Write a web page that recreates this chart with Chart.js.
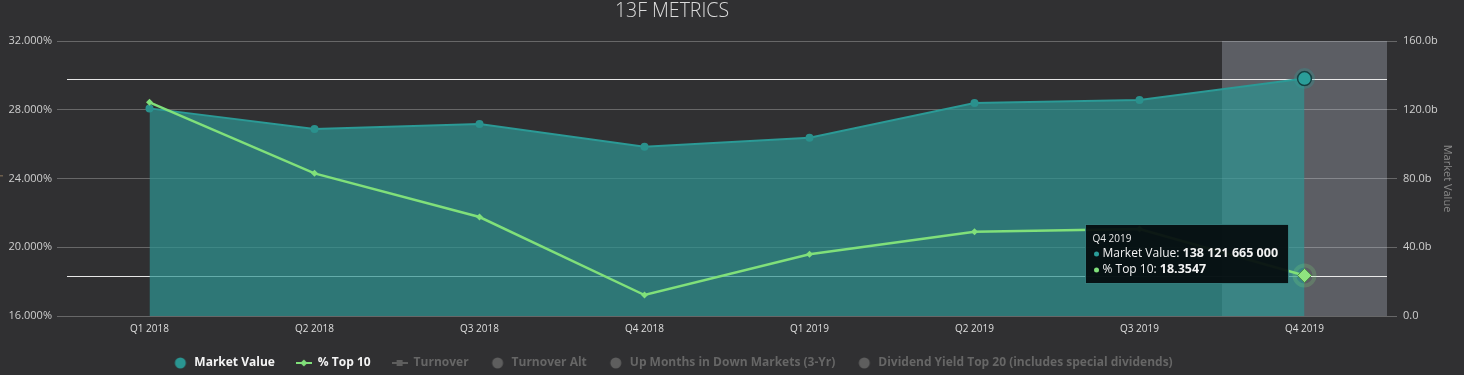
<!DOCTYPE html>
<html><head><meta charset="utf-8">
<script src="https://cdn.jsdelivr.net/npm/chart.js@4/dist/chart.umd.min.js"></script>
<style>
html,body{margin:0;padding:0;background:#303032;overflow:hidden;}
#wrap{width:1464px;height:375px;position:relative;}
canvas{display:block;}
</style></head><body>
<div id="wrap"><canvas id="c" width="1464" height="375"></canvas></div>
<script>
// ---- data ----
const categories = ['Q1 2018','Q2 2018','Q3 2018','Q4 2018','Q1 2019','Q2 2019','Q3 2019','Q4 2019'];
const marketValue = [120800000000, 108800000000, 111700000000, 98500000000, 103700000000, 123900000000, 125700000000, 138121665000];
const pctTop10 = [28.43, 24.30, 21.76, 17.22, 19.59, 20.90, 21.06, 18.3547];
const leftTicks = [16, 20, 24, 28, 32];
const rightTicks = [0, 40000000000, 80000000000, 120000000000, 160000000000];
const hiddenSeries = ['Turnover', 'Turnover Alt', 'Up Months in Down Markets (3-Yr)', 'Dividend Yield Top 20 (includes special dividends)'];
const chartTitle = '13F METRICS';
const activeIndex = 7;

// ---- styling ----
const FONT = "'Open Sans', 'Noto Sans', sans-serif";
const TEAL = '#2b9a96';
const GREEN = '#80e07a';
Chart.defaults.font.family = FONT;

function makeMarker(kind, color) {
  const c = document.createElement('canvas');
  c.width = 16; c.height = 12;
  const g = c.getContext('2d');
  g.fillStyle = color; g.strokeStyle = color;
  if (kind === 'circle') {
    g.beginPath(); g.arc(8, 6, 5.5, 0, Math.PI * 2); g.fill();
  } else if (kind === 'lineDiamond') {
    g.lineWidth = 2; g.beginPath(); g.moveTo(0, 6); g.lineTo(16, 6); g.stroke();
    g.beginPath(); g.moveTo(8, 2.5); g.lineTo(11.5, 6); g.lineTo(8, 9.5); g.lineTo(4.5, 6); g.closePath(); g.fill();
  } else {
    g.lineWidth = 2; g.beginPath(); g.moveTo(0, 6); g.lineTo(16, 6); g.stroke();
    g.fillRect(5, 3, 6, 6);
  }
  return c;
}
const HID = '#666666';
const markers = [makeMarker('circle', '#2a9591'), makeMarker('lineDiamond', GREEN), makeMarker('lineSquare', '#5e5e5e'),
  makeMarker('circle', '#5e5e5e'), makeMarker('circle', '#5e5e5e'), makeMarker('circle', '#5e5e5e')];

function fmtSpaces(v) { return String(v).replace(/\B(?=(\d{3})+(?!\d))/g, ' '); }

const isActive = c => c.dataIndex === activeIndex;

const datasets = [
  {
    label: 'Market Value', data: marketValue, yAxisID: 'y1', order: 2,
    fill: 'start', backgroundColor: 'rgba(45,150,147,0.7)', borderColor: TEAL, borderWidth: 2, tension: 0,
    pointRadius: c => isActive(c) ? 7 : 4,
    pointBackgroundColor: c => isActive(c) ? '#2a9d99' : '#2a918d',
    pointBorderColor: c => isActive(c) ? '#153f40' : '#2a918d',
    pointBorderWidth: c => isActive(c) ? 1.5 : 0
  },
  {
    label: '% Top 10', data: pctTop10, yAxisID: 'y', order: 1,
    fill: false, borderColor: GREEN, backgroundColor: GREEN, borderWidth: 2.5, tension: 0,
    pointStyle: 'rectRot',
    pointRadius: c => isActive(c) ? 7 : 3.5,
    pointBackgroundColor: c => isActive(c) ? '#8fe47f' : GREEN,
    pointBorderColor: c => isActive(c) ? '#4d8f48' : GREEN,
    pointBorderWidth: c => isActive(c) ? 1 : 0
  }
].concat(hiddenSeries.map(name => ({ label: name, data: [], hidden: true, yAxisID: 'y', order: 3 })));

const extras = {
  id: 'extras',
  beforeDatasetsDraw(chart) {
    const ctx = chart.ctx, ca = chart.chartArea, xs = chart.scales.x;
    const step = xs.getPixelForValue(1) - xs.getPixelForValue(0);
    const cx = xs.getPixelForValue(activeIndex);
    ctx.save();
    ctx.fillStyle = 'rgba(224,232,250,0.25)';
    ctx.fillRect(cx - step / 2, ca.top, step, ca.bottom - ca.top);
    const mv = chart.getDatasetMeta(0).data[activeIndex];
    const pt = chart.getDatasetMeta(1).data[activeIndex];
    ctx.strokeStyle = 'rgba(240,240,240,0.95)';
    ctx.lineWidth = 1;
    [mv.y, pt.y].forEach(y => {
      const yy = Math.round(y) + 0.5;
      ctx.beginPath(); ctx.moveTo(ca.left, yy); ctx.lineTo(ca.right, yy); ctx.stroke();
    });
    ctx.restore();
  },
  afterDatasetsDraw(chart) {
    const ctx = chart.ctx;
    const mv = chart.getDatasetMeta(0).data[activeIndex];
    const pt = chart.getDatasetMeta(1).data[activeIndex];
    ctx.save();
    // halos
    [[mv, 'rgba(43,160,156,0.28)', 7.5, 10.5], [pt, 'rgba(128,224,122,0.22)', 8, 12]].forEach(([p, col, r0, r1]) => {
      ctx.beginPath();
      ctx.arc(p.x, p.y, r1, 0, Math.PI * 2);
      ctx.arc(p.x, p.y, r0, 0, Math.PI * 2, true);
      ctx.fillStyle = col; ctx.fill();
    });
    // tooltip
    const w = 203, h = 59;
    const x = Math.round(pt.x - 17 - w) + 0.5, y = Math.round(pt.y - 52) + 0.5;
    ctx.fillStyle = 'rgba(6,14,16,0.95)';
    ctx.fillRect(x, y, w, h);
    ctx.strokeStyle = 'rgba(60,140,140,0.75)';
    ctx.lineWidth = 1;
    ctx.strokeRect(x, y, w, h);
    ctx.textBaseline = 'middle';
    ctx.textAlign = 'left';
    ctx.fillStyle = '#eaeaea';
    ctx.font = '10px ' + FONT;
    ctx.fillText(categories[activeIndex], x + 7, y + 15);
    const rows = [
      ['Market Value: ', fmtSpaces(marketValue[activeIndex]), '#2a9d99'],
      ['% Top 10: ', String(pctTop10[activeIndex]), GREEN]
    ];
    rows.forEach(([lab, val, col], i) => {
      const ty = y + 29 + i * 16;
      ctx.fillStyle = col;
      ctx.beginPath(); ctx.arc(x + 11, ty + 0.5, 2.5, 0, Math.PI * 2); ctx.fill();
      ctx.fillStyle = '#f2f2f2';
      ctx.font = '12px ' + FONT;
      ctx.fillText(lab, x + 17, ty);
      const lw = ctx.measureText(lab).width;
      ctx.font = 'bold 12.5px ' + FONT;
      ctx.fillText(val, x + 17 + lw, ty);
    });
    ctx.restore();
  },
  beforeDraw(chart) {
    const lg = chart.legend;
    if (lg) {
      const hgt = lg.bottom - lg.top;
      lg.left = 0; lg.right = 1345;
      lg.top = 336; lg.bottom = lg.top + hgt;
    }
  },
  afterDraw(chart) {
    const ctx = chart.ctx;
    ctx.save();
    ctx.fillStyle = '#dcdcdc';
    ctx.font = '300 19.5px ' + FONT;
    ctx.textAlign = 'center';
    ctx.textBaseline = 'alphabetic';
    ctx.fillText(chartTitle, 672, 17);
    ctx.restore();
  }
};

new Chart(document.getElementById('c'), {
  type: 'line',
  data: { labels: categories, datasets },
  plugins: [extras],
  options: {
    responsive: false,
    animation: false,
    devicePixelRatio: 1,
    events: [],
    layout: { padding: { left: -10, right: 0, top: 41, bottom: -4 } },
    plugins: {
      tooltip: { enabled: false },
      title: { display: false },
      legend: {
        position: 'bottom',
        labels: {
          usePointStyle: true, pointStyleWidth: 16, padding: 21,
          font: { size: 12, weight: 'bold', family: FONT },
          generateLabels: chart => chart.data.datasets.map((ds, i) => ({
            text: ds.label, pointStyle: markers[i], hidden: false, datasetIndex: i,
            fillStyle: 'transparent', strokeStyle: 'transparent', lineWidth: 0,
            fontColor: ds.hidden ? HID : '#f4f4f4'
          }))
        }
      }
    },
    scales: {
      x: {
        type: 'category', offset: true,
        grid: { display: false, drawTicks: false },
        border: { display: false },
        ticks: { color: '#dedede', font: { size: 10 }, padding: 7, maxRotation: 0 },
        afterFit: s => { s.height = 20; }
      },
      y: {
        position: 'left', min: 16, max: 32,
        afterBuildTicks: s => { s.ticks = leftTicks.map(v => ({ value: v })); },
        grid: { color: 'rgba(150,150,150,0.55)', tickLength: 10, drawTicks: true },
        border: { display: false },
        ticks: { color: '#cfcfcf', font: { size: 11 }, padding: 5, callback: v => Number(v).toFixed(3) + '%' },
        title: { display: true, text: '% Top 10', color: '#a58a66', font: { size: 11 }, padding: { top: 0, bottom: 0 } },
        afterFit: s => { s.width = 77; }
      },
      y1: {
        position: 'right', min: 0, max: 160000000000,
        afterBuildTicks: s => { s.ticks = rightTicks.map(v => ({ value: v })); },
        grid: { drawOnChartArea: false, color: 'rgba(150,150,150,0.55)', tickLength: 10 },
        border: { display: false },
        ticks: { color: '#cfcfcf', font: { size: 11 }, padding: 6, callback: v => v === 0 ? '0.0' : (v / 1e9).toFixed(1) + 'b' },
        title: { display: true, text: 'Market Value', color: '#8a8a8a', font: { size: 11 }, padding: { top: 10, bottom: 0 } },
        afterFit: s => { s.width = 77; }
      }
    }
  }
});
</script>
</body></html>
